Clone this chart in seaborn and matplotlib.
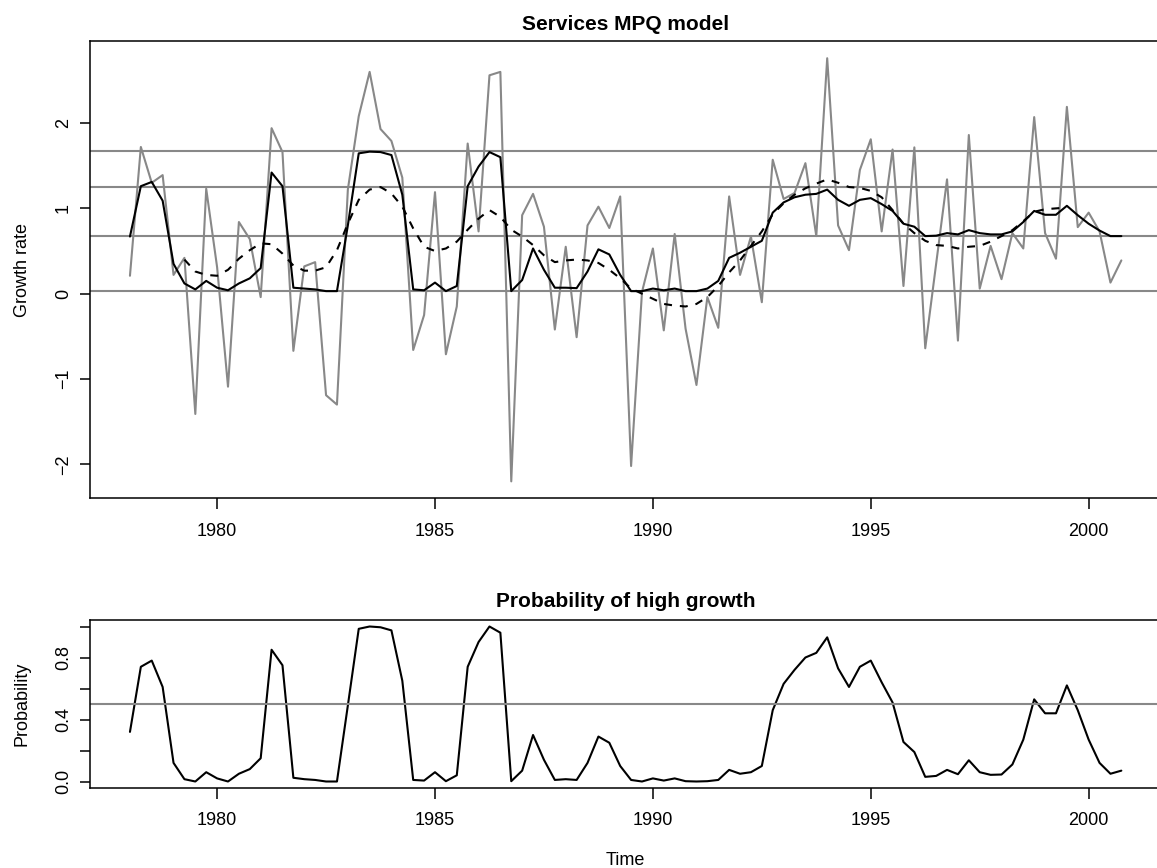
import numpy as np
import pandas as pd
import seaborn as sns
import matplotlib.pyplot as plt

# quarterly series, 1978Q1 .. 2000Q4
start_year = 1978

growth = [0.21, 1.72, 1.30, 1.39, 0.22, 0.42, -1.41, 1.23, 0.31, -1.09,
          0.84, 0.64, -0.04, 1.94, 1.66, -0.67, 0.32, 0.37, -1.19, -1.30,
          1.22, 2.08, 2.60, 1.93, 1.79, 1.36, -0.66, -0.25, 1.19, -0.71,
          -0.15, 1.76, 0.73, 2.56, 2.60, -2.20, 0.92, 1.17, 0.785, -0.42,
          0.55, -0.51, 0.80, 1.02, 0.77, 1.14, -2.02, 0.02, 0.53, -0.43,
          0.70, -0.41, -1.07, -0.04, -0.40, 1.14, 0.22, 0.67, -0.10, 1.57,
          1.11, 1.18, 1.53, 0.675, 2.76, 0.80, 0.51, 1.45, 1.81, 0.73,
          1.69, 0.09, 1.715, -0.64, 0.35, 1.34, -0.55, 1.86, 0.06, 0.56,
          0.17, 0.71, 0.53, 2.07, 0.71, 0.41, 2.19, 0.78, 0.95, 0.73,
          0.13, 0.39]

fitted = [0.67, 1.26, 1.31, 1.09, 0.35, 0.12, 0.05, 0.15, 0.07, 0.04,
          0.12, 0.18, 0.30, 1.42, 1.26, 0.07, 0.06, 0.05, 0.03, 0.03,
          0.80, 1.645, 1.665, 1.66, 1.625, 1.16, 0.05, 0.04, 0.13, 0.03,
          0.09, 1.26, 1.49, 1.66, 1.60, 0.03, 0.16, 0.53, 0.28, 0.07,
          0.07, 0.065, 0.26, 0.52, 0.46, 0.22, 0.03, 0.03, 0.06, 0.04,
          0.06, 0.03, 0.03, 0.06, 0.15, 0.42, 0.48, 0.55, 0.62, 0.95,
          1.07, 1.13, 1.16, 1.17, 1.22, 1.10, 1.03, 1.10, 1.12, 1.05,
          0.97, 0.82, 0.785, 0.675, 0.68, 0.71, 0.695, 0.745, 0.71, 0.695,
          0.695, 0.73, 0.84, 0.97, 0.925, 0.925, 1.03, 0.92, 0.82, 0.74,
          0.675, 0.675]

# dashed smooth line starts at the 6th quarter
trend_start = 5
trend = [0.40, 0.26, 0.22, 0.21, 0.28, 0.41, 0.51, 0.59, 0.58, 0.47,
         0.33, 0.27, 0.27, 0.31, 0.51, 0.82, 1.10, 1.22, 1.25, 1.175,
         1.02, 0.765, 0.55, 0.50, 0.53, 0.61, 0.75, 0.88, 0.98, 0.90,
         0.75, 0.67, 0.57, 0.45, 0.37, 0.39, 0.40, 0.39, 0.36, 0.28,
         0.18, 0.06, 0.00, -0.06, -0.12, -0.14, -0.15, -0.12, -0.04, 0.09,
         0.25, 0.39, 0.56, 0.73, 0.93, 1.06, 1.16, 1.235, 1.29, 1.34,
         1.30, 1.25, 1.24, 1.205, 1.13, 0.98, 0.82, 0.71, 0.62, 0.57,
         0.56, 0.53, 0.55, 0.56, 0.61, 0.675, 0.745, 0.85, 0.96, 0.99,
         1.00, 1.01]

prob = [0.32, 0.74, 0.78, 0.61, 0.12, 0.015, 0.0, 0.06, 0.02, 0.0,
        0.05, 0.08, 0.15, 0.85, 0.75, 0.024, 0.015, 0.01, 0.0, 0.0,
        0.49, 0.985, 1.0, 0.995, 0.975, 0.65, 0.01, 0.006, 0.06, 0.002,
        0.04, 0.74, 0.90, 1.0, 0.96, 0.002, 0.07, 0.30, 0.14, 0.01,
        0.015, 0.01, 0.12, 0.29, 0.25, 0.10, 0.01, 0.0, 0.02, 0.006,
        0.02, 0.002, 0.0, 0.002, 0.01, 0.075, 0.05, 0.06, 0.10, 0.46,
        0.63, 0.72, 0.80, 0.83, 0.93, 0.73, 0.61, 0.74, 0.78, 0.64,
        0.51, 0.255, 0.19, 0.03, 0.036, 0.075, 0.047, 0.137, 0.06, 0.043,
        0.045, 0.11, 0.27, 0.53, 0.44, 0.44, 0.62, 0.46, 0.27, 0.12,
        0.05, 0.07]

state_means = [0.031, 0.674, 1.246, 1.667]
prob_cut = 0.5

x_ticks = [1980, 1985, 1990, 1995, 2000]
growth_ticks = [-2, -1, 0, 1, 2]
prob_ticks = [0.0, 0.2, 0.4, 0.6, 0.8, 1.0]
prob_labels = ['0.0', '', '0.4', '', '0.8', '']

time = start_year + np.arange(len(growth)) / 4
df = pd.DataFrame({'time': time, 'growth': growth, 'fitted': fitted, 'prob': prob})
trend_df = pd.DataFrame({'time': time[trend_start:trend_start + len(trend)], 'trend': trend})

sns.set_style('ticks')
plt.rcParams['font.family'] = ['Liberation Sans', 'DejaVu Sans']
plt.rcParams['font.size'] = 13
plt.rcParams['text.color'] = 'black'
plt.rcParams['axes.labelcolor'] = 'black'
plt.rcParams['xtick.color'] = 'black'
plt.rcParams['ytick.color'] = 'black'

grey = '#888888'
W, H = 1157, 868
fig = plt.figure(figsize=(W / 100, H / 100), dpi=100)
ax1 = fig.add_axes([90.3 / W, 1 - 498.3 / H, (1161 - 90.3) / W, (498.3 - 41.3) / H])
ax2 = fig.add_axes([90.3 / W, 1 - 787.7 / H, (1161 - 90.3) / W, (787.7 - 620.3) / H])

# R style 4% padding around the data
def pad_range(lo, hi):
    d = (hi - lo) * 0.04
    return lo - d, hi + d

xlim = pad_range(time.min(), time.max())

# top panel
sns.lineplot(data=df, x='time', y='growth', color=grey, lw=1.5, ax=ax1)
for m in state_means:
    ax1.axhline(m, color=grey, lw=1.5)
sns.lineplot(data=df, x='time', y='fitted', color='black', lw=1.5, ax=ax1)
sns.lineplot(data=trend_df, x='time', y='trend', color='black', lw=1.5,
             linestyle=(0, (3.8, 3.8)), ax=ax1)
ax1.set_xlim(xlim)
ax1.set_ylim(pad_range(min(growth), max(growth)))
ax1.set_yticks(growth_ticks)

# bottom panel
sns.lineplot(data=df, x='time', y='prob', color='black', lw=1.5, ax=ax2)
ax2.axhline(prob_cut, color=grey, lw=1.5)
ax2.set_xlim(xlim)
ax2.set_ylim(pad_range(0, 1))
ax2.set_yticks(prob_ticks)
ax2.set_yticklabels(prob_labels)

for ax in (ax1, ax2):
    ax.set_xticks(x_ticks)
    ax.set_xlabel('')
    ax.set_ylabel('')
    for s in ax.spines.values():
        s.set_visible(True)
        s.set_color('black')
        s.set_linewidth(1.1)
    ax.tick_params(axis='x', direction='out', length=7.7, width=1.1, pad=9.8,
                   labelsize=13, bottom=True, top=False, colors='black')
    ax.tick_params(axis='y', direction='out', length=7.4, width=1.1, pad=5.8,
                   labelsize=13, left=True, right=False, labelrotation=90,
                   colors='black')
    for lab in ax.get_yticklabels():
        lab.set_va('center')

ax_cx = (90.3 + 1161) / 2 / W
fig.text(ax_cx, 1 - 29.5 / H, 'Services MPQ model', ha='center', va='baseline',
         fontsize=15, fontweight='bold', color='black')
fig.text(ax_cx, 1 - 607 / H, 'Probability of high growth', ha='center', va='baseline',
         fontsize=15, fontweight='bold', color='black')
fig.text(ax_cx, 1 - 865 / H, 'Time', ha='center', va='baseline', fontsize=13,
         color='black')
fig.text(26.7 / W, 1 - 269.8 / H, 'Growth rate', rotation=90, rotation_mode='anchor',
         ha='center', va='baseline', fontsize=13, color='black')
fig.text(26.7 / W, 1 - 704 / H, 'Probability', rotation=90, rotation_mode='anchor',
         ha='center', va='baseline', fontsize=13, color='black')

fig.savefig('out.png', dpi=100)
